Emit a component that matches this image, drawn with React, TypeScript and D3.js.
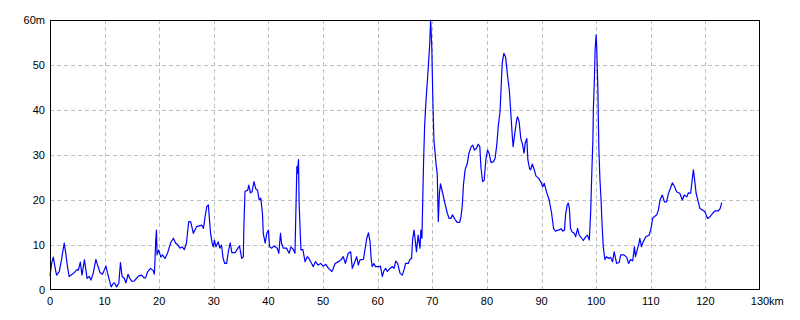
import React from "react";
import * as d3 from "d3";

const distanceKm: number[] = [
  0, 0.3, 0.6, 0.9, 1.2, 1.7, 2.1, 2.6, 2.9, 3.2, 3.5, 4.3, 5.0, 5.2, 5.55, 5.86, 6.3, 6.8, 7.2, 7.5, 7.9, 8.4, 8.7, 9.15, 9.6,
  10.25, 10.5, 11.2, 11.6, 11.8, 12.2, 12.6, 12.9, 13.2, 13.6, 13.9, 14.3, 14.6, 15.0, 15.4, 16.2, 16.8, 17.2, 17.5, 17.9, 18.4,
  18.9, 19.1, 19.2, 19.35, 19.5, 19.6, 19.9, 20.3, 20.6, 21.05, 21.55, 22.1, 22.6, 23.0, 23.3, 23.8, 24.2, 24.6, 25.0, 25.2,
  25.4, 25.75, 26.25, 26.85, 27.8, 28.1, 28.4, 28.7, 29.0, 29.2, 29.4, 29.7, 29.9, 30.1, 30.4, 30.8, 31.1, 31.4, 31.7, 32.0,
  32.35, 32.65, 33.0, 33.3, 33.9, 34.2, 34.7, 35.1, 35.4, 35.5, 35.7, 36.2, 36.4, 36.7, 37.0, 37.35, 37.7, 38.0, 38.3, 38.6,
  38.9, 39.05, 39.4, 39.7, 40.0, 40.2, 40.6, 41.0, 41.6, 41.9, 42.2, 42.4, 42.7, 43.3, 43.8, 44.1, 44.55, 44.85, 45.0, 45.2,
  45.3, 45.5, 45.6, 45.8, 45.95, 46.3, 46.7, 47.1, 47.4, 47.9, 48.2, 48.6, 49.1, 49.55, 50.0, 50.5, 51.0, 51.6, 51.75, 52.2,
  52.8, 53.3, 53.7, 54.1, 54.6, 55.05, 55.35, 55.7, 56.15, 56.45, 56.75, 57.4, 57.8, 58.0, 58.3, 58.6, 58.8, 59.0, 59.3, 59.6,
  60.2, 60.5, 60.85, 61.15, 61.45, 61.76, 62.25, 62.7, 63.0, 63.3, 63.65, 64.1, 64.5, 64.9, 65.1, 65.6, 65.9, 66.2, 66.4,
  66.65, 66.8, 67.1, 67.4, 67.75, 67.9, 68.1, 68.4, 68.6, 68.85, 69.15, 69.5, 69.7, 69.9, 70.1, 70.3, 70.7, 70.9, 71.1, 71.3,
  71.5, 71.9, 72.3, 72.75, 73.1, 73.4, 73.7, 74.2, 74.6, 75.0, 75.25, 75.5, 75.7, 76.0, 76.4, 76.7, 77.1, 77.4, 77.7, 78.1,
  78.4, 78.7, 78.9, 79.2, 79.5, 79.8, 80.1, 80.4, 80.75, 81.2, 81.5, 81.8, 82.1, 82.4, 82.8, 83.1, 83.4, 83.8, 84.1, 84.4,
  84.65, 84.8, 85.1, 85.45, 85.6, 85.9, 86.2, 86.55, 86.8, 87.0, 87.3, 87.5, 87.8, 88.0, 88.3, 88.6, 89.0, 89.5, 90.0, 90.2,
  90.5, 90.9, 91.4, 91.85, 92.2, 92.5, 93.1, 93.6, 93.9, 94.2, 94.4, 94.7, 94.9, 95.1, 95.3, 95.6, 96.0, 96.25, 96.6, 96.9,
  97.35, 97.65, 98.1, 98.4, 98.75, 99.0, 99.2, 99.4, 99.5, 99.7, 99.8, 100.0, 100.1, 100.3, 100.5, 100.7, 100.9, 101.1, 101.3,
  101.6, 101.9, 102.3, 102.65, 103.0, 103.3, 103.75, 104.2, 104.5, 105.1, 105.6, 105.95, 106.3, 106.7, 107.0, 107.2, 107.6,
  107.85, 108.0, 108.3, 108.6, 109.1, 109.7, 110.05, 110.35, 110.65, 111.1, 111.4, 111.7, 112.1, 112.5, 112.9, 113.2, 113.6,
  113.95, 114.4, 114.7, 115.3, 115.8, 116.1, 116.6, 116.9, 117.3, 117.55, 117.8, 118.0, 118.3, 118.6, 119.0, 119.45, 119.9,
  120.4, 120.85, 121.3, 121.75, 122.4, 122.7, 123.0,
];

const elevationM: number[] = [
  3.1, 5.9, 7.3, 5.2, 3.3, 4.1, 6.7, 10.4, 8.1, 5.2, 3.0, 3.7, 4.6, 4.4, 6.2, 3.3, 6.7, 2.6, 3.0, 2.2, 3.7, 6.8, 5.6, 3.9, 3.5,
  5.3, 3.9, 0.7, 1.5, 1.6, 0.7, 1.5, 6.1, 3.0, 2.6, 1.6, 3.5, 2.6, 1.9, 2.0, 3.1, 3.3, 2.7, 2.7, 4.1, 4.8,
  4.3, 3.5, 5.9, 10.7, 13.3, 7.8, 8.9, 7.3, 7.8, 7.0, 8.3, 10.5, 11.5, 10.4, 10.2, 9.3, 9.6, 9.0, 10.5, 13.0,
  15.2, 15.2, 12.6, 14.1, 14.4, 13.7, 16.3, 18.5, 18.9, 15.6, 12.6, 10.4, 9.6, 11.1, 9.6, 10.7, 9.3, 10.0, 7.0, 5.9,
  5.9, 8.5, 10.5, 8.3, 8.3, 8.9, 9.8, 7.0, 7.4, 14.1, 21.9, 22.2, 23.3, 21.6, 21.85, 24.1, 22.4, 22.2, 20.0, 20.4,
  17.0, 12.6, 10.4, 12.6, 13.3, 9.6, 9.3, 9.8, 9.3, 8.15, 12.6, 10.4, 9.3, 9.3, 8.15, 9.6, 9.0, 8.15, 16.3, 27.4,
  25.9, 29.0, 20.0, 13.3, 8.9, 9.0, 6.3, 7.4, 7.0, 5.9, 5.2, 6.3, 5.55, 5.9, 5.3, 5.7, 4.8, 4.1, 4.4, 5.9,
  6.3, 6.7, 7.4, 5.9, 8.15, 8.5, 4.8, 5.9, 7.4, 5.55, 6.7, 6.8, 10.0, 11.5, 12.7, 10.8, 7.0, 5.2, 5.9, 5.2,
  5.2, 5.3, 3.0, 4.3, 4.8, 4.1, 4.8, 5.2, 4.8, 6.4, 5.9, 3.7, 3.3, 4.8, 5.9, 5.9, 6.8, 7.0, 11.3,
  13.3, 11.85, 8.5, 12.2, 9.3, 13.3, 11.5, 28.5, 36.7, 42.2, 47.4, 54.1, 60, 54.1, 42.2, 33.3, 27.8, 25.9, 15.2, 21.5,
  23.6, 21.5, 19.3, 17.0, 15.9, 15.9, 16.7, 15.6, 15.0, 15.0, 16.3, 18.9, 23.3, 26.7, 28.1, 30.4, 31.8, 32.2, 31.1, 31.5,
  32.4, 31.85, 27.4, 24.1, 24.4, 28.9, 31.1, 30.4, 28.3, 28.5, 29.3, 32.2, 36.7, 39.6, 50.4, 52.6, 51.85, 47.4, 44.4, 38.9,
  34.1, 31.85, 34.8, 37.8, 38.5, 37.4, 33.7, 32.2, 30.4, 32.6, 33.7, 28.9, 27.0, 26.7, 28.0, 27.0, 25.3, 24.8, 23.7, 22.9,
  23.7, 21.85, 20.0, 17.0, 13.7, 13.1, 13.3, 13.6, 13.1, 13.3, 16.7, 18.9, 19.3, 18.1, 13.7, 12.9, 12.6, 11.85, 13.7, 12.2,
  11.5, 11.0, 11.85, 12.2, 11.1, 17.4, 25.9, 33.3, 40.7, 47.4, 53.3, 56.7, 54.1, 45.2, 31.1, 24.4, 20.0, 14.1, 9.6,
  6.8, 7.4, 7.0, 7.25, 6.3, 8.5, 5.9, 6.1, 7.8, 7.8, 7.25, 5.9, 6.8, 6.5, 9.6, 7.4, 9.3,
  10.4, 11.5, 9.6, 10.7, 11.85, 12.2, 13.7, 15.9, 16.3, 16.7, 17.8, 20.0, 21.1, 19.6, 19.6, 21.3, 22.6,
  23.8, 22.9, 21.85, 21.5, 20.0, 21.1, 20.7, 21.6, 21.5, 24.1, 26.7, 24.8, 21.5, 20.1, 18.1, 17.8, 17.4,
  15.9, 16.3, 17.0, 17.6, 17.6, 18.1, 19.4,
];

const xTicks: number[] = [0, 10, 20, 30, 40, 50, 60, 70, 80, 90, 100, 110, 120, 130];
const yTicks: number[] = [0, 10, 20, 30, 40, 50, 60];

const W = 800;
const H = 320;
const L = 50;
const R = 760;
const T = 20;
const B = 290;
const FONT = "'Liberation Sans', Arial, sans-serif";

export default function App() {
  const x = d3.scaleLinear().domain([0, 130]).range([L, R]);
  const y = d3.scaleLinear().domain([0, 60]).range([B, T]);
  const pts: [number, number][] = distanceKm.map((d, i) => [d, elevationM[i]]);
  const line = d3
    .line<[number, number]>()
    .x((d) => x(d[0]))
    .y((d) => y(d[1]));

  return (
    <svg
      width={W}
      height={H}
      style={{ position: "absolute", left: 0, top: 0, background: "#fff" }}
    >
      <rect x={0} y={0} width={W} height={H} fill="#fff" />
      {xTicks
        .filter((t) => t > 0 && t < 130)
        .map((t) => (
          <line
            key={"gx" + t}
            x1={Math.round(x(t)) + 0.5}
            x2={Math.round(x(t)) + 0.5}
            y1={T}
            y2={B}
            stroke="#c0c0c0"
            strokeDasharray="4,3"
          />
        ))}
      {yTicks
        .filter((t) => t > 0 && t < 60)
        .map((t) => (
          <line
            key={"gy" + t}
            x1={L}
            x2={R}
            y1={Math.round(y(t)) + 0.5}
            y2={Math.round(y(t)) + 0.5}
            stroke="#c0c0c0"
            strokeDasharray="4,3"
          />
        ))}
      <path
        d={line(pts) || ""}
        fill="none"
        stroke="#0000ff"
        strokeWidth={1.2}
        strokeLinejoin="round"
      />
      <rect
        x={L + 0.5}
        y={T + 0.5}
        width={R - L - 1}
        height={B - T - 1}
        fill="none"
        stroke="#000"
        strokeWidth={1}
      />
      {yTicks.map((t) => (
        <text
          key={"ly" + t}
          x={45}
          y={y(t)}
          textAnchor="end"
          dominantBaseline="central"
          fontFamily={FONT}
          fontSize={11}
          fill="#000"
        >
          {t === 60 ? "60m" : String(t)}
        </text>
      ))}
      {xTicks.map((t) => (
        <text
          key={"lx" + t}
          x={x(t)}
          y={301}
          textAnchor="middle"
          dominantBaseline="central"
          fontFamily={FONT}
          fontSize={11}
          fill="#000"
        >
          {String(t)}
        </text>
      ))}
      <text
        x={x(130) + 9}
        y={301}
        textAnchor="start"
        dominantBaseline="central"
        fontFamily={FONT}
        fontSize={11}
        fill="#000"
      >
        km
      </text>
    </svg>
  );
}
